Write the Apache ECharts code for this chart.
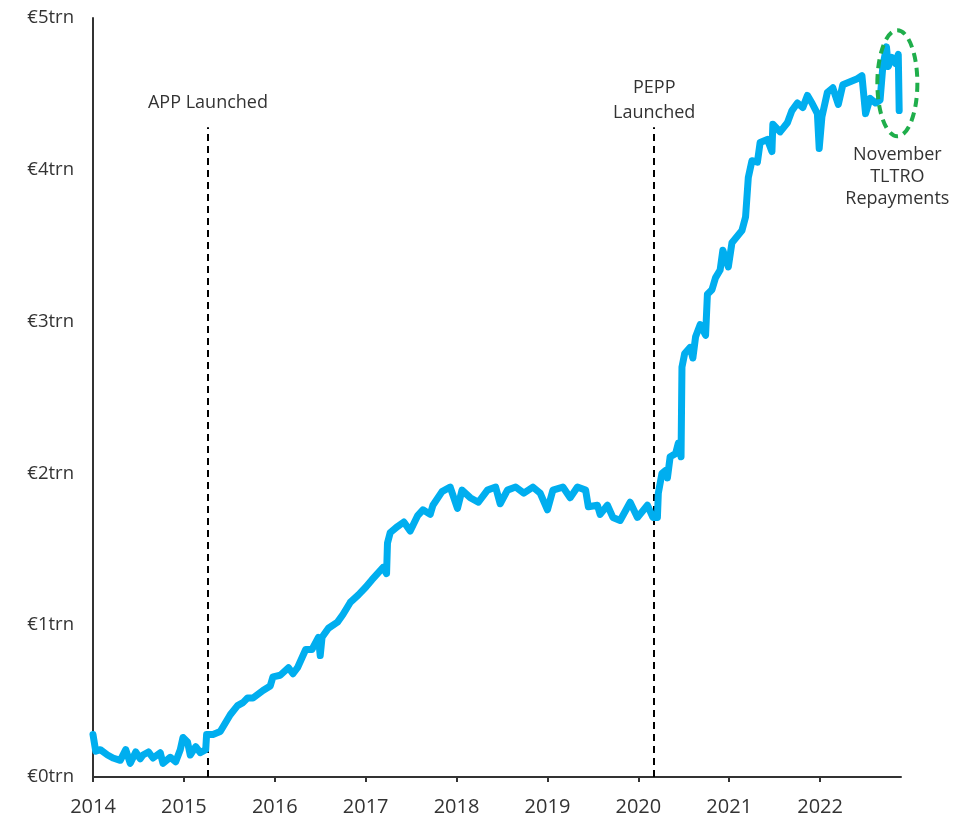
<!DOCTYPE html>
<html>
<head>
<meta charset="utf-8">
<script src="https://cdn.jsdelivr.net/npm/echarts@6/dist/echarts.min.js"></script>
<style>
  html, body { margin: 0; padding: 0; background: #fff; }
  #chart { width: 967px; height: 818px; }
</style>
</head>
<body>
<div id="chart"></div>
<script>
// Eurosystem excess liquidity, EUR trillions, by date (decimal years)
const dates = [
  2014.00, 2014.03, 2014.08, 2014.16, 2014.22, 2014.30, 2014.36, 2014.41, 2014.47, 2014.52,
  2014.55, 2014.61, 2014.66, 2014.74, 2014.77, 2014.85, 2014.91, 2014.96, 2014.99, 2015.04,
  2015.07, 2015.13, 2015.18, 2015.24, 2015.25, 2015.32, 2015.40, 2015.51, 2015.59, 2015.65,
  2015.70, 2015.76, 2015.87, 2015.95, 2015.98, 2016.06, 2016.15, 2016.20, 2016.25, 2016.34,
  2016.41, 2016.48, 2016.50, 2016.52, 2016.59, 2016.69, 2016.75, 2016.83, 2016.92, 2017.00,
  2017.07, 2017.13, 2017.19, 2017.23, 2017.24, 2017.27, 2017.35, 2017.42, 2017.49, 2017.57,
  2017.63, 2017.71, 2017.74, 2017.84, 2017.93, 2018.01, 2018.06, 2018.15, 2018.24, 2018.34,
  2018.43, 2018.48, 2018.56, 2018.65, 2018.74, 2018.84, 2018.92, 2019.00, 2019.06, 2019.17,
  2019.25, 2019.33, 2019.42, 2019.45, 2019.55, 2019.58, 2019.66, 2019.72, 2019.80, 2019.91,
  2019.99, 2020.10, 2020.16, 2020.21, 2020.22, 2020.26, 2020.30, 2020.32, 2020.35, 2020.41,
  2020.44, 2020.47, 2020.48, 2020.51, 2020.57, 2020.60, 2020.63, 2020.68, 2020.74, 2020.76,
  2020.81, 2020.85, 2020.90, 2020.93, 2020.99, 2021.03, 2021.14, 2021.18, 2021.21, 2021.25,
  2021.31, 2021.34, 2021.42, 2021.47, 2021.48, 2021.56, 2021.64, 2021.69, 2021.75, 2021.81,
  2021.86, 2021.91, 2021.97, 2021.99, 2022.02, 2022.08, 2022.14, 2022.20, 2022.25, 2022.33,
  2022.41, 2022.46, 2022.50, 2022.55, 2022.61, 2022.66, 2022.69, 2022.73, 2022.75, 2022.79,
  2022.83, 2022.86, 2022.87
];
const liquidity = [
  0.28, 0.17, 0.18, 0.145, 0.125, 0.11, 0.18, 0.09, 0.165, 0.12,
  0.145, 0.165, 0.125, 0.16, 0.09, 0.13, 0.10, 0.18, 0.26, 0.23,
  0.145, 0.20, 0.16, 0.18, 0.28, 0.28, 0.30, 0.41, 0.47, 0.49,
  0.52, 0.52, 0.57, 0.60, 0.66, 0.67, 0.72, 0.68, 0.72, 0.84,
  0.84, 0.92, 0.80, 0.92, 0.98, 1.02, 1.07, 1.15, 1.20, 1.25,
  1.30, 1.34, 1.38, 1.34, 1.54, 1.61, 1.65, 1.68, 1.62, 1.72,
  1.76, 1.73, 1.79, 1.88, 1.91, 1.77, 1.89, 1.84, 1.81, 1.89,
  1.91, 1.80, 1.89, 1.91, 1.87, 1.91, 1.87, 1.76, 1.89, 1.91,
  1.84, 1.91, 1.89, 1.78, 1.79, 1.73, 1.79, 1.71, 1.69, 1.81,
  1.71, 1.79, 1.71, 1.71, 1.87, 2.00, 2.02, 1.97, 2.11, 2.13,
  2.20, 2.11, 2.70, 2.79, 2.83, 2.76, 2.90, 2.98, 2.91, 3.18,
  3.21, 3.29, 3.34, 3.47, 3.36, 3.52, 3.60, 3.69, 3.95, 4.06,
  4.05, 4.18, 4.20, 4.12, 4.30, 4.25, 4.31, 4.39, 4.44, 4.41,
  4.49, 4.44, 4.37, 4.14, 4.35, 4.51, 4.54, 4.43, 4.56, 4.58,
  4.60, 4.62, 4.37, 4.47, 4.44, 4.46, 4.68, 4.81, 4.68, 4.74,
  4.70, 4.76, 4.39
];
const yearTicks = [2014, 2015, 2016, 2017, 2018, 2019, 2020, 2021, 2022];
const eventNames = ['APP Launched', 'PEPP\nLaunched'];
const eventDates = [2015.265, 2020.175];
const eventTop = 4.28;
const noteText = 'November\nTLTRO\nRepayments';

const FONT = '"Open Sans", "Noto Sans", sans-serif';
const TEXT = '#333333';

const chart = echarts.init(document.getElementById('chart'), null, { renderer: 'canvas' });

// single-line labels sit higher above the dashed line than two-line ones
const labelGap = [12, 2];
const eventLines = eventDates.map((d, i) => [
  { coord: [d, 0] },
  { coord: [d, eventTop], label: { formatter: eventNames[i], distance: labelGap[i] } }
]);

chart.setOption({
  animation: false,
  backgroundColor: '#ffffff',
  grid: { left: 93, right: 66, top: 18, bottom: 41 },
  xAxis: {
    type: 'value',
    min: 2014,
    max: 2022.89,
    interval: 1,
    splitLine: { show: false },
    axisLine: { show: true, lineStyle: { color: '#333', width: 2 } },
    axisTick: { show: true, length: 5, lineStyle: { color: '#333', width: 2 }, customValues: yearTicks },
    axisLabel: {
      customValues: yearTicks,
      formatter: v => String(Math.round(v)),
      color: TEXT, fontFamily: FONT, fontSize: 20, margin: 20
    }
  },
  yAxis: {
    type: 'value',
    min: 0,
    max: 5,
    interval: 1,
    splitLine: { show: false },
    axisLine: { show: true, lineStyle: { color: '#333', width: 2 } },
    axisTick: { show: false },
    axisLabel: {
      formatter: v => '€' + v + 'trn',
      color: TEXT, fontFamily: FONT, fontSize: 18.5, margin: 19
    }
  },
  series: [{
    type: 'line',
    data: dates.map((d, i) => [d, liquidity[i]]),
    showSymbol: false,
    smooth: false,
    lineStyle: { color: '#00AEEF', width: 7, join: 'round', cap: 'round' },
    z: 3,
    markLine: {
      silent: true,
      symbol: 'none',
      lineStyle: { color: '#000', type: [7, 5], width: 2 },
      label: {
        show: true,
        position: 'end',
        color: TEXT,
        fontFamily: FONT,
        fontSize: 18,
        lineHeight: 25,
        align: 'center'
      },
      data: eventLines,
      z: 2
    }
  }]
});

// Ellipse and note marking the November repayments, placed in data space
function placeNote() {
  const c = chart.convertToPixel({ gridIndex: 0 }, [2022.85, 4.57]);
  const t = chart.convertToPixel({ gridIndex: 0 }, [2022.85, 4.17]);
  chart.setOption({
    graphic: [
      {
        type: 'ellipse',
        shape: { cx: c[0], cy: c[1], rx: 20, ry: 53 },
        style: { fill: 'none', stroke: '#1fae4b', lineWidth: 4, lineDash: [9, 6] },
        z: 10
      },
      {
        type: 'text',
        x: t[0],
        y: t[1],
        style: {
          text: noteText,
          fill: TEXT,
          font: '18px ' + FONT,
          lineHeight: 22,
          align: 'center',
          verticalAlign: 'top'
        },
        z: 10
      }
    ]
  });
}
placeNote();
</script>
</body>
</html>
